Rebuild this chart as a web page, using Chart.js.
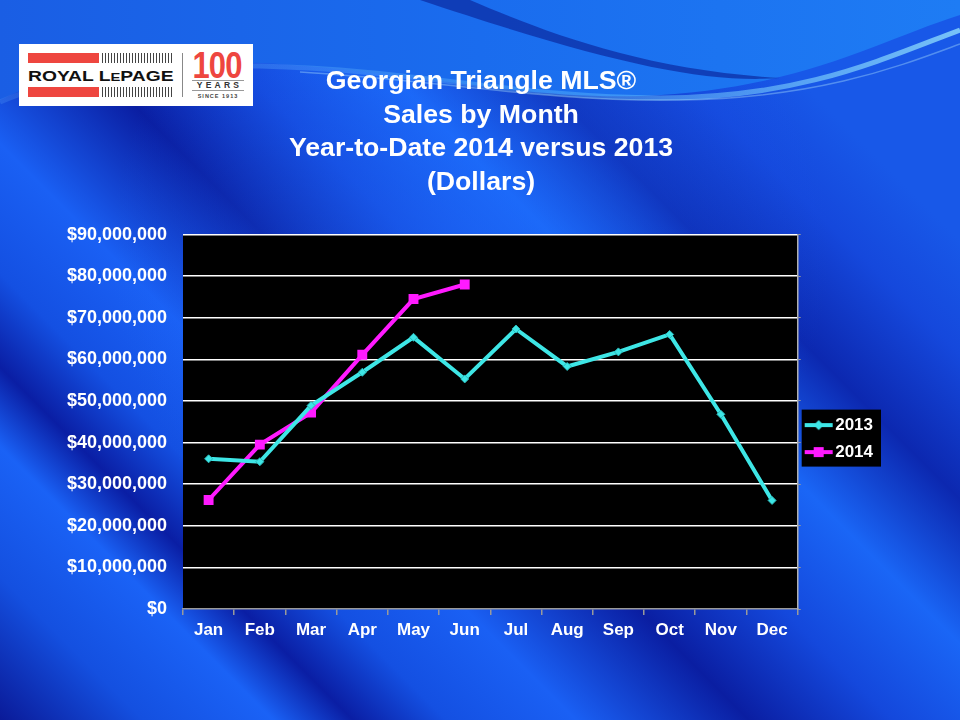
<!DOCTYPE html>
<html>
<head>
<meta charset="utf-8">
<script src="https://cdn.jsdelivr.net/npm/chart.js@4.4.1/dist/chart.umd.min.js"></script>
<style>
html,body{margin:0;padding:0;width:960px;height:720px;overflow:hidden;background:#1448d8;}
#bg{position:absolute;left:0;top:0;}
#wrap{position:absolute;left:0;top:0;width:960px;height:720px;}
.logo{position:absolute;left:19px;top:44px;width:234px;height:62px;background:#fff;font-family:"Liberation Sans",Arial,sans-serif;overflow:hidden;}
.logo .red{position:absolute;background:#ee463f;}
.logo .bars{position:absolute;background:repeating-linear-gradient(90deg,#444 0 1.4px,#fff 1.4px 3px);}
.logo .name{position:absolute;left:9px;top:24px;font-weight:bold;font-size:15px;line-height:16px;color:#111;letter-spacing:0px;white-space:nowrap;transform:scaleX(1.285);transform-origin:0 0;}
.logo .name small{font-size:11.5px;}
.logo .div{position:absolute;left:163px;top:9px;width:1px;height:44px;background:#888;}
.logo .hund{position:absolute;left:165px;top:4px;width:66px;text-align:center;font-size:36px;line-height:36px;font-weight:bold;color:#ee463f;letter-spacing:-1px;transform:scaleX(0.86);transform-origin:50% 0;}
.logo .yrs{position:absolute;left:173px;top:36px;width:52px;text-align:center;font-size:8.5px;line-height:9px;font-weight:bold;color:#333;letter-spacing:3.2px;text-indent:3px;border-top:1px solid #999;border-bottom:1px solid #999;}
.logo .since{position:absolute;left:173px;top:49px;width:52px;text-align:center;font-size:5.5px;line-height:6px;font-weight:bold;color:#444;letter-spacing:1px;}
</style>
</head>
<body>
<svg id="bg" width="960" height="720" viewBox="0 0 960 720">
  <defs>
    <linearGradient id="bands" x1="0" y1="720" x2="720" y2="0" gradientUnits="userSpaceOnUse">
      <stop offset="0" stop-color="#0a1a98"/>
      <stop offset="0.10" stop-color="#1450e0"/>
      <stop offset="0.19" stop-color="#1a62f6"/>
      <stop offset="0.245" stop-color="#0a1ea4"/>
      <stop offset="0.31" stop-color="#1450e2"/>
      <stop offset="0.40" stop-color="#1a60f4"/>
      <stop offset="0.52" stop-color="#0a1ea2"/>
      <stop offset="0.62" stop-color="#1448dc"/>
      <stop offset="0.72" stop-color="#1a66f6"/>
      <stop offset="0.82" stop-color="#0c28b0"/>
      <stop offset="0.92" stop-color="#1548dc"/>
      <stop offset="1" stop-color="#1858e8"/>
    </linearGradient>
    <radialGradient id="glow" cx="470" cy="250" r="360" gradientUnits="userSpaceOnUse">
      <stop offset="0" stop-color="#2070ff" stop-opacity="0.45"/>
      <stop offset="1" stop-color="#2070ff" stop-opacity="0"/>
    </radialGradient>
    <linearGradient id="topg" x1="0" y1="0" x2="960" y2="0" gradientUnits="userSpaceOnUse">
      <stop offset="0" stop-color="#1a5ee4"/>
      <stop offset="0.5" stop-color="#1a6cee"/>
      <stop offset="1" stop-color="#1e7cf4"/>
    </linearGradient>
    <linearGradient id="swoosh" x1="0" y1="0" x2="960" y2="0" gradientUnits="userSpaceOnUse">
      <stop offset="0" stop-color="#6ab8ff" stop-opacity="0.2"/>
      <stop offset="0.6" stop-color="#6ac8ff" stop-opacity="0.35"/>
      <stop offset="1" stop-color="#a0f0ff" stop-opacity="0.7"/>
    </linearGradient>
  </defs>
  <rect x="0" y="0" width="960" height="720" fill="url(#bands)"/>
  <rect x="0" y="0" width="960" height="720" fill="url(#glow)"/>
  <path d="M0,0 H960 V15 C880,40 800,90 640,96 C500,100 360,58 180,62 C100,64 40,80 0,100 Z" fill="url(#topg)"/>
  <path d="M420,0 H470 C540,30 640,70 780,78 C700,84 600,60 420,0 Z" fill="#0b2aa0" opacity="0.7"/>
  <path d="M0,102 C60,76 140,64 260,66 C420,70 520,98 660,98 C800,98 880,60 960,30" fill="none" stroke="url(#swoosh)" stroke-width="5"/>
  <path d="M300,72 C440,80 540,102 680,100 C820,98 900,66 960,44" fill="none" stroke="#bff4ff" stroke-opacity="0.35" stroke-width="1.5"/>
</svg>

<div class="logo">
  <div class="red" style="left:9px;top:9px;width:71px;height:10px;"></div>
  <div class="bars" style="left:83px;top:9px;width:71px;height:10px;"></div>
  <div class="name">ROYAL L<small>E</small>PAGE</div>
  <div class="red" style="left:9px;top:43px;width:71px;height:10px;"></div>
  <div class="bars" style="left:83px;top:43px;width:71px;height:10px;"></div>
  <div class="div"></div>
  <div class="hund">100</div>
  <div class="yrs">YEARS</div>
  <div class="since">SINCE 1913</div>
</div>

<div id="wrap"><canvas id="c" width="960" height="720"></canvas></div>

<script>
// ---- data ----
const months = ['Jan','Feb','Mar','Apr','May','Jun','Jul','Aug','Sep','Oct','Nov','Dec'];
const sales2013 = [36100000, 35400000, 48900000, 56900000, 65300000, 55300000, 67300000, 58300000, 61800000, 66000000, 46800000, 26100000];
const sales2014 = [26200000, 39500000, 47200000, 61100000, 74500000, 78000000, null, null, null, null, null, null];
const seriesLabels = ['2013', '2014'];
const yMin = 0;
const yMax = 90000000;
const yStep = 10000000;
const titleLines = ['Georgian Triangle MLS\u00AE', 'Sales by Month', 'Year-to-Date 2014 versus 2013', '(Dollars)'];

// ---- styles ----
const FONT = "'Liberation Sans', Arial, sans-serif";
const C13 = '#3ee6e6';
const C14 = '#ff1aff';

function swatch(color, shape) {
  const c = document.createElement('canvas');
  c.width = 30; c.height = 14;
  const g = c.getContext('2d');
  g.strokeStyle = color; g.lineWidth = 4;
  g.beginPath(); g.moveTo(1, 7); g.lineTo(29, 7); g.stroke();
  g.fillStyle = color;
  if (shape === 'diamond') {
    g.beginPath(); g.moveTo(15, 2); g.lineTo(20, 7); g.lineTo(15, 12); g.lineTo(10, 7); g.closePath(); g.fill();
  } else {
    g.fillRect(10, 2, 10, 10);
  }
  return c;
}
const swatches = [swatch(C13, 'diamond'), swatch(C14, 'square')];

const backdrop = {
  id: 'backdrop',
  afterLayout(chart) {
    // centre the title block on the whole slide
    const tb = chart.titleBlock;
    if (tb) { tb.left = 2; tb.right = chart.width; tb.width = chart.width - 2; }
  },
  beforeDraw(chart) {
    const {ctx, chartArea: a} = chart;
    ctx.save();
    ctx.fillStyle = '#000';
    ctx.fillRect(a.left, a.top, a.right - a.left, a.bottom - a.top);
    const lg = chart.legend;
    if (lg && lg.legendHitBoxes && lg.legendHitBoxes.length) {
      const hb = lg.legendHitBoxes;
      const l = Math.min(...hb.map(h => h.left)) - 9;
      const r = Math.max(...hb.map(h => h.left + h.width)) + 8;
      const t = hb[0].top - 7;
      const last = hb[hb.length - 1];
      const b = last.top + last.height + 6;
      ctx.fillRect(l, t, r - l, b - t);
    }
    ctx.restore();
  }
};

new Chart(document.getElementById('c'), {
  type: 'line',
  data: {
    labels: months,
    datasets: [
      {
        label: seriesLabels[0], data: sales2013, yAxisID: 'y',
        borderColor: C13, backgroundColor: C13, borderWidth: 4,
        pointStyle: 'rectRot', pointRadius: 4, pointBackgroundColor: C13, pointBorderColor: '#2ab8b8', pointBorderWidth: 1,
        tension: 0, spanGaps: false
      },
      {
        label: seriesLabels[1], data: sales2014, yAxisID: 'y',
        borderColor: C14, backgroundColor: C14, borderWidth: 4,
        pointStyle: 'rect', pointRadius: 7, pointBackgroundColor: C14, pointBorderColor: C14, pointBorderWidth: 0,
        tension: 0, spanGaps: false
      }
    ]
  },
  options: {
    responsive: false,
    animation: false,
    devicePixelRatio: 1,
    layout: { padding: { top: 65, left: 40, right: 77, bottom: 81 } },
    plugins: {
      tooltip: { enabled: false },
      title: {
        display: true, text: titleLines, color: '#ffffff',
        font: { family: FONT, size: 26.7, weight: 'bold', lineHeight: 1.26 },
        padding: { top: 0, bottom: 35 }
      },
      legend: {
        display: true, position: 'right', align: 'center',
        title: { display: true, text: '', font: { size: 1 }, padding: { top: 172, bottom: 0 } },
        labels: {
          color: '#ffffff', usePointStyle: true, pointStyleWidth: 16, padding: 10,
          font: { family: FONT, size: 17, weight: 'bold' },
          generateLabels(chart) {
            return Chart.defaults.plugins.legend.labels.generateLabels(chart).map((it, i) => ({...it, pointStyle: swatches[i]}));
          }
        }
      }
    },
    scales: {
      x: {
        offset: true,
        grid: { offset: true, drawOnChartArea: false, drawTicks: true, tickLength: 6, color: '#9a9a9a', lineWidth: 1.5 },
        border: { display: true, color: '#9a9a9a', width: 1.5 },
        ticks: { color: '#ffffff', padding: 5, font: { family: FONT, size: 17, weight: 'bold' } },
        afterFit(scale) { scale.height = 30; }
      },
      y: {
        min: yMin, max: yMax,
        grid: { color: ctx => ctx.tick && ctx.tick.value === 0 ? 'rgba(0,0,0,0)' : '#ffffff', lineWidth: 1.5, drawTicks: false },
        border: { display: false },
        ticks: {
          stepSize: yStep, color: '#ffffff', padding: 16,
          font: { family: FONT, size: 18, weight: 'bold' },
          callback: v => '$' + Number(v).toLocaleString('en-US')
        },
        afterFit(scale) { scale.width = 143; }
      },
      y2: {
        position: 'right', min: yMin, max: yMax,
        grid: { drawOnChartArea: false, drawTicks: true, tickLength: 3, color: '#9a9a9a', lineWidth: 1 },
        border: { display: true, color: '#b0b0b0', width: 1.5 },
        ticks: { display: false, stepSize: yStep }
      }
    }
  },
  plugins: [backdrop]
});
</script>
</body>
</html>
